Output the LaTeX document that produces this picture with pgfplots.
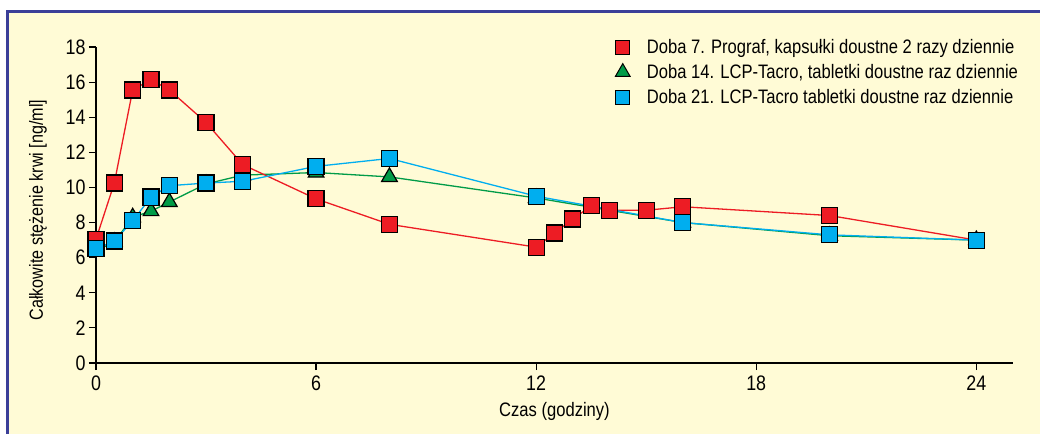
\documentclass[border=0pt]{standalone}
\usepackage{fontspec}
\setmainfont{Liberation Sans}[FakeStretch=0.85]
\usepackage{pgfplots}
\pgfplotsset{compat=1.18}

\definecolor{cream}{HTML}{FFFBD6}
\definecolor{frameblue}{HTML}{3B3F98}
\definecolor{sred}{HTML}{ED1C24}
\definecolor{sgreen}{HTML}{009B48}
\definecolor{sblue}{HTML}{00AEEF}

\begin{document}
\begin{tikzpicture}
% canvas: 1px = 1pt, axis origin at pixel (96,363)
\fill[white] (-96pt,-71pt) rectangle (944pt,363pt);
\fill[cream] (-88pt,-71pt) rectangle (944pt,351pt);
\fill[frameblue] (-89.5pt,-71pt) rectangle (-86.5pt,352.5pt);
\fill[frameblue] (-89.5pt,349.5pt) rectangle (944pt,352.5pt);
\begin{axis}[
  scale only axis, width=917pt, height=316pt,
  xmin=0, xmax=25, ymin=0, ymax=18,
  axis lines=left, axis line style={-, line width=1.2pt},
  tick align=outside, major tick length=7pt,
  tick style={black, line width=1.2pt},
  xtick={0,6,12,18,24}, ytick={0,2,...,18},
  /pgf/number format/assume math mode=true,
  tick label style={font=\fontsize{21}{24}\selectfont},
  xticklabel style={yshift=-2pt},
  xlabel={Czas (godziny)},
  ylabel={Całkowite stężenie krwi [ng/ml]},
  every axis x label/.style={at={(axis description cs:0.5,0)}, yshift=-48pt, anchor=center,
                             font=\fontsize{19.5}{22}\selectfont},
  every axis y label/.style={at={(axis description cs:0,0.484)}, xshift=-58pt, rotate=90, anchor=center,
                             font=\fontsize{19}{22}\selectfont},
  legend style={draw=none, fill=none, at={(0.562,1.038)}, anchor=north west,
                font=\fontsize{19.5}{22}\selectfont, row sep=5.5pt},
  legend cell align=left,
  legend image code/.code={\draw[#1] plot coordinates {(8pt,0pt)}; \path (0pt,0pt) (30pt,0pt);},
  clip=false,
]
\addlegendimage{only marks, mark=square*, mark size=7pt, mark options={fill=sred, draw=black, line width=1pt}}
\addlegendentry{Doba 7. Prograf, kapsułki doustne 2 razy dziennie}
\addlegendimage{only marks, mark=triangle*, mark size=8.5pt, mark options={fill=sgreen, draw=black, line width=1pt}}
\addlegendentry{Doba 14. LCP-Tacro, tabletki doustne raz dziennie}
\addlegendimage{only marks, mark=square*, mark size=7pt, mark options={fill=sblue, draw=black, line width=1pt}}
\addlegendentry{Doba 21. LCP-Tacro tabletki doustne raz dziennie}

\addplot[sgreen, line width=1.3pt, mark=triangle*, mark size=9pt, mark options={fill=sgreen, draw=black, line width=1.2pt}, forget plot] coordinates {
(0,6.4) (0.5,6.9) (1,8.3) (1.5,8.65) (2,9.17) (3,10.2) (4,10.7) (6,10.85) (8,10.6) (12,9.4) (16,8.0) (20,7.25) (24,7.0)};
\addplot[sred, line width=1.3pt, mark=square*, mark size=8pt, mark options={fill=sred, draw=black, line width=1.2pt}, forget plot] coordinates {
(0,7.05) (0.5,10.25) (1,15.55) (1.5,16.15) (2,15.55) (3,13.7) (4,11.3) (6,9.35) (8,7.9) (12,6.6) (12.5,7.4) (13,8.2) (13.5,8.95) (14,8.7) (15,8.7) (16,8.9) (20,8.4) (24,7.0)};
\addplot[sblue, line width=1.3pt, mark=square*, mark size=8pt, mark options={fill=sblue, draw=black, line width=1.2pt}, forget plot] coordinates {
(0,6.5) (0.5,6.95) (1,8.1) (1.5,9.45) (2,10.1) (3,10.25) (4,10.35) (6,11.2) (8,11.65) (12,9.5) (16,8.0) (20,7.3) (24,7.0)};
\end{axis}
\fill[cream] (936pt,-71pt) rectangle (944pt,349.5pt);
\end{tikzpicture}
\end{document}
